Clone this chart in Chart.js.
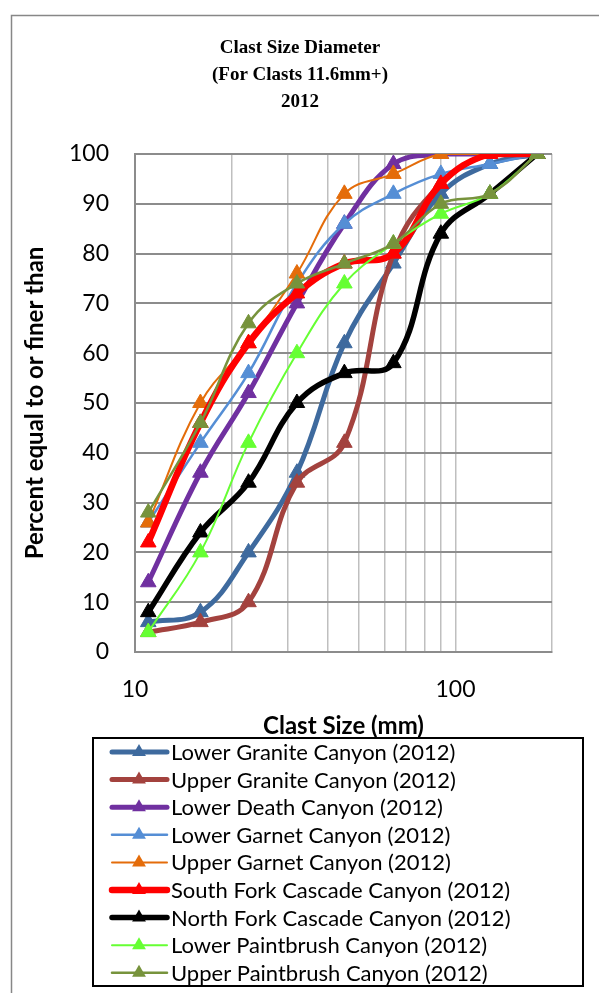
<!DOCTYPE html>
<html>
<head>
<meta charset="utf-8">
<title>Clast Size Diameter 2012</title>
<script src="https://cdn.jsdelivr.net/npm/chart.js@4.4.0/dist/chart.umd.min.js"></script>
<style>
  html, body { margin: 0; padding: 0; background: #fff; }
  canvas { display: block; }
</style>
</head>
<body>
<canvas id="clastChart" width="599" height="993"></canvas>
<script>
// clast size classes (mm) and cumulative percent finer for each site
const clastSizes = [11, 16, 22.6, 32, 45, 64, 90, 128, 180];

const lowerGranite = [6, 8, 20, 36, 62, 78, 92, 98, 100];
const upperGranite = [4, 6, 10, 34, 42, 80, 94, 100, 100];
const lowerDeath = [14, 36, 52, 70, 86, 98, 100, 100, 100];
const lowerGarnet = [26, 42, 56, 74, 86, 92, 96, 98, 100];
const upperGarnet = [26, 50, 62, 76, 92, 96, 100, 100, 100];
const southForkCascade = [22, 46, 62, 72, 78, 80, 94, 100, 100];
const northForkCascade = [8, 24, 34, 50, 56, 58, 84, 92, 100];
const lowerPaintbrush = [4, 20, 42, 60, 74, 82, 88, 92, 100];
const upperPaintbrush = [28, 46, 66, 74, 78, 82, 90, 92, 100];

const seriesNames = [
  'Lower Granite Canyon (2012)',
  'Upper Granite Canyon (2012)',
  'Lower Death Canyon (2012)',
  'Lower Garnet Canyon (2012)',
  'Upper Garnet Canyon (2012)',
  'South Fork Cascade Canyon (2012)',
  'North Fork Cascade Canyon (2012)',
  'Lower Paintbrush Canyon (2012)',
  'Upper Paintbrush Canyon (2012)',
];
const seriesValues = [
  lowerGranite, upperGranite, lowerDeath, lowerGarnet, upperGarnet,
  southForkCascade, northForkCascade, lowerPaintbrush, upperPaintbrush,
];

const titleLines = ['Clast Size Diameter', '(For Clasts 11.6mm+)', '2012'];
const xGridValues = [10, 20, 30, 40, 50, 60, 70, 80, 90, 100, 200];
const xTickLabels = [10, 100];

// styles
const seriesColors = ['#3E6A9E', '#A3423E', '#7030A0', '#558ED5', '#E46C0A', '#FF0000', '#000000', '#66FF33', '#77933C'];
const seriesWidths = [5, 5, 5, 2.5, 2, 6.5, 5.5, 2, 2.5];

const SANS = 'Lato, "Open Sans", sans-serif';
const GRID_DARK = '#8C8C8C';
const GRID_LIGHT = '#BFBFBF';

const datasets = seriesNames.map((name, i) => ({
  label: name,
  data: clastSizes.map((x, k) => ({ x, y: seriesValues[i][k] })),
  borderColor: seriesColors[i],
  backgroundColor: seriesColors[i],
  borderWidth: seriesWidths[i],
  pointStyle: 'triangle',
  pointRadius: 9,
  pointBorderWidth: 1,
  pointBorderColor: seriesColors[i],
  pointBackgroundColor: seriesColors[i],
  tension: 0.4,
  fill: false,
  order: seriesNames.length - i,
}));

// outer frame + title centred on the whole picture
const framePlugin = {
  id: 'frame',
  beforeDraw(chart) {
    const ctx = chart.ctx;
    ctx.save();
    ctx.fillStyle = '#fff';
    ctx.fillRect(0, 0, chart.width, chart.height);
    ctx.strokeStyle = '#878787';
    ctx.lineWidth = 1.5;
    ctx.strokeRect(11.5, 15.5, 700, 1100);
    ctx.fillStyle = '#000';
    ctx.font = 'bold 19px "Liberation Serif", "Times New Roman", serif';
    ctx.textAlign = 'center';
    ctx.textBaseline = 'middle';
    titleLines.forEach((t, i) => ctx.fillText(t, 300, 48 + i * 27));
    ctx.restore();
  },
};

// boxed legend in the style of the original (line + triangle sample)
const boxLegendPlugin = {
  id: 'boxLegend',
  afterDraw(chart) {
    const ctx = chart.ctx;
    ctx.save();
    ctx.strokeStyle = '#000';
    ctx.lineWidth = 2;
    ctx.strokeRect(93, 738, 490, 248);
    ctx.font = '22px ' + SANS;
    ctx.textBaseline = 'middle';
    ctx.textAlign = 'left';
    chart.data.datasets.forEach((ds, i) => {
      const y = 752 + i * 27.6;
      ctx.strokeStyle = ds.borderColor;
      ctx.lineWidth = ds.borderWidth;
      ctx.lineCap = 'round';
      ctx.beginPath();
      ctx.moveTo(112, y);
      ctx.lineTo(167, y);
      ctx.stroke();
      const r = 8;
      ctx.fillStyle = ds.pointBackgroundColor;
      ctx.beginPath();
      ctx.moveTo(139, y - r);
      ctx.lineTo(139 + r * 0.866, y + r * 0.5);
      ctx.lineTo(139 - r * 0.866, y + r * 0.5);
      ctx.closePath();
      ctx.fill();
      ctx.fillStyle = '#000';
      ctx.fillText(ds.label, 171, y + 1);
    });
    ctx.restore();
  },
};

new Chart(document.getElementById('clastChart'), {
  type: 'line',
  data: { datasets },
  options: {
    responsive: false,
    animation: false,
    layout: { padding: { left: 0, right: 47, top: 154, bottom: 251 } },
    plugins: {
      legend: { display: false },
      tooltip: { enabled: false },
      title: { display: false },
    },
    scales: {
      x: {
        type: 'logarithmic',
        min: 10,
        max: 200,
        afterBuildTicks: (s) => { s.ticks = xGridValues.map((v) => ({ value: v })); },
        afterFit: (s) => { s.height = 90; },
        ticks: {
          autoSkip: false,
          maxRotation: 0,
          padding: 24,
          color: '#000',
          font: { family: SANS, size: 23 },
          callback: (v) => (xTickLabels.includes(v) ? String(v) : ''),
        },
        grid: {
          drawTicks: false,
          lineWidth: 1.5,
          color: (c) => (c.tick && c.tick.value === 10 ? GRID_DARK : GRID_LIGHT),
        },
        border: { color: GRID_DARK, width: 2 },
        title: {
          display: true,
          text: 'Clast Size (mm)',
          color: '#000',
          font: { family: SANS, size: 24, weight: 'bold', lineHeight: 1.2 },
          padding: { top: 0, bottom: 1 },
        },
      },
      y: {
        min: 0,
        max: 100,
        afterFit: (s) => { s.width = 135; },
        ticks: {
          stepSize: 10,
          padding: 26,
          color: '#000',
          font: { family: SANS, size: 23 },
        },
        grid: { drawTicks: false, lineWidth: 2, color: GRID_DARK },
        border: { color: GRID_DARK, width: 2 },
        title: {
          display: true,
          text: 'Percent equal to or finer than',
          color: '#000',
          font: { family: SANS, size: 24, weight: 'bold', lineHeight: 1.2 },
          padding: { top: 21 },
        },
      },
    },
  },
  plugins: [framePlugin, boxLegendPlugin],
});
</script>
</body>
</html>
